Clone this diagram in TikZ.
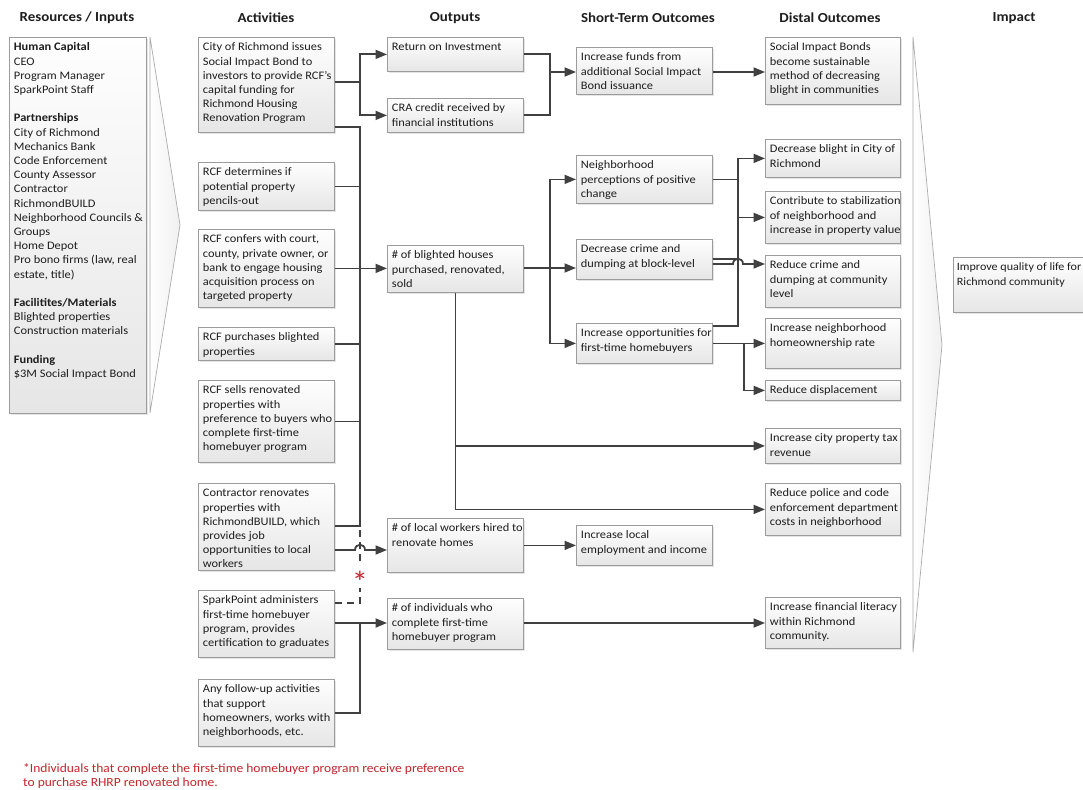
\documentclass[tikz,border=0pt]{standalone}
\usepackage{fontspec}
\setmainfont{Carlito}[FakeStretch=1.08]
\usetikzlibrary{arrows.meta,shadows}

\definecolor{wirecol}{HTML}{404040}
\definecolor{boxline}{HTML}{9C9C9C}
\definecolor{boxtop}{HTML}{FEFEFE}
\definecolor{boxbot}{HTML}{E6E6E6}
\definecolor{notecol}{RGB}{196,38,44}
\definecolor{ink}{HTML}{1E1E1E}

\newcommand\cellfont{\fontsize{11.5}{14.2}\selectfont}
\newcommand\notefont{\fontsize{12.5}{14.2}\selectfont}
% box with its top-left corner at (x,y), width w, height h, text set from the top
\newcommand\cell[6]{%
  \node[cellbox, minimum width=#4pt, minimum height=#5pt] (#1) at (#2,#3)
    {\parbox[t][\dimexpr#5pt-7pt\relax][t]{\dimexpr#4pt-9pt\relax}{%
      \begin{tabular}[t]{@{}l@{}}#6\end{tabular}}};}

\begin{document}
\begin{tikzpicture}[x=1pt,y=-1pt,
  cellbox/.style={anchor=north west, draw=boxline, line width=0.8pt,
    top color=boxtop, bottom color=boxbot, inner xsep=4.5pt, inner ysep=3.5pt,
    drop shadow={shadow xshift=1.3pt, shadow yshift=-1.3pt, opacity=0.2},
    text=ink, font=\cellfont},
  head/.style={font=\fontsize{13.8}{15}\selectfont\bfseries, text=ink, inner sep=0pt},
  wire/.style={draw=wirecol, line width=1.8pt},
  arr/.style={wire, -{Triangle[length=11.5pt,width=9pt]}},
  dashlink/.style={draw=wirecol, line width=1.8pt, dash pattern=on 7pt off 5pt},
  chev/.style={draw=gray!65, line width=0.7pt, left color=white, right color=gray!12},
  starmark/.style={text=notecol, font=\fontsize{30}{30}\selectfont, inner sep=0pt},
  footnote/.style={text=notecol, font=\notefont, inner sep=0pt}]

\useasboundingbox (0,0) rectangle (1083,789);
\fill[white] (0,0) rectangle (1083,789);

% column headings
\node[head] (hRes) at (77,18) {Resources / Inputs};
\node[head] (hAct) at (266,18) {Activities};
\node[head] (hOut) at (455,18) {Outputs};
\node[head] (hShort) at (648,18) {Short-Term Outcomes};
\node[head] (hDist) at (830,18) {Distal Outcomes};
\node[head] (hImp) at (1014,18) {Impact};

% chevrons between columns
\path[chev] (150,37) -- (180,225) -- (150,413) -- cycle;
\path[chev] (913,37) -- (942,345) -- (913,652) -- cycle;

% resources
\cell{res}{9}{37}{137}{376}{\textbf{Human Capital}\\ CEO\\ Program Manager\\ SparkPoint Staff\\ \\
  \textbf{Partnerships}\\ City of Richmond\\ Mechanics Bank\\ Code Enforcement\\ County Assessor\\
  Contractor\\ RichmondBUILD\\ Neighborhood Councils \&\\ Groups\\ Home Depot\\
  Pro bono firms (law, real\\ estate, title)\\ \\
  \textbf{Facilitites/Materials}\\ Blighted properties\\ Construction materials\\ \\
  \textbf{Funding}\\ \$3M Social Impact Bond}

% activities
\cell{a1}{198}{37}{136}{95}{City of Richmond issues\\ Social Impact Bond to\\ investors to provide RCF’s\\ capital funding for\\ Richmond Housing\\ Renovation Program}
\cell{a2}{198}{162}{136}{48}{RCF determines if\\ potential property\\ pencils-out}
\cell{a3}{198}{229}{136}{78}{RCF confers with court,\\ county, private owner, or\\ bank to engage housing\\ acquisition process on\\ targeted property}
\cell{a4}{198}{327}{136}{33}{RCF purchases blighted\\ properties}
\cell{a5}{198}{380}{136}{82}{RCF sells renovated\\ properties with\\ preference to buyers who\\ complete first-time\\ homebuyer program}
\cell{a6}{198}{483}{136}{87}{Contractor renovates\\ properties with\\ RichmondBUILD, which\\ provides job\\ opportunities to local\\ workers}
\cell{a7}{198}{590}{136}{67}{SparkPoint administers\\ first-time homebuyer\\ program, provides\\ certification to graduates}
\cell{a8}{198}{679}{136}{67}{Any follow-up activities\\ that support\\ homeowners, works with\\ neighborhoods, etc.}

% outputs
\cell{o1}{387}{37}{136}{34}{Return on Investment}
\cell{o2}{387}{98}{136}{34}{CRA credit received by\\ financial institutions}
\cell{o3}{387}{245}{136}{47}{\# of blighted houses\\ purchased, renovated,\\ sold}
\cell{o4}{387}{518}{136}{54}{\# of local workers hired to\\ renovate homes}
\cell{o5}{387}{598}{136}{51}{\# of individuals who\\ complete first-time\\ homebuyer program}

% short-term outcomes
\cell{s1}{576}{47}{136}{47}{Increase funds from\\ additional Social Impact\\ Bond issuance}
\cell{s2}{576}{155}{136}{48}{Neighborhood\\ perceptions of positive\\ change}
\cell{s3}{576}{239}{136}{40}{Decrease crime and\\ dumping at block-level}
\cell{s4}{576}{323}{136}{40}{Increase opportunities for\\ first-time homebuyers}
\cell{s5}{576}{525}{136}{40}{Increase local\\ employment and income}

% distal outcomes
\cell{d1}{765}{37}{135}{67}{Social Impact Bonds\\ become sustainable\\ method of decreasing\\ blight in communities}
\cell{d2}{765}{139}{135}{38}{Decrease blight in City of\\ Richmond}
\cell{d3}{765}{191}{135}{52}{Contribute to stabilization\\ of neighborhood and\\ increase in property value}
\cell{d4}{765}{255}{135}{52}{Reduce crime and\\ dumping at community\\ level}
\cell{d5}{765}{318}{135}{50}{Increase neighborhood\\ homeownership rate}
\cell{d6}{765}{380}{135}{20}{Reduce displacement}
\cell{d7}{765}{428}{135}{35}{Increase city property tax\\ revenue}
\cell{d8}{765}{483}{135}{52}{Reduce police and code\\ enforcement department\\ costs in neighborhood}
\cell{d9}{765}{597}{135}{51}{Increase financial literacy\\ within Richmond\\ community.}

% impact (runs past the right edge of the page)
\node[cellbox, minimum width=137pt, minimum height=55pt, inner xsep=3.5pt] (imp) at (953,257)
  {\parbox[t][48pt][t]{130pt}{\fontsize{11.2}{14.2}\selectfont
   \begin{tabular}[t]{@{}l@{}}Improve quality of life for\\ Richmond community\end{tabular}}};

% junction points
\coordinate (busA) at (360,82);
\coordinate (busTop) at (360,127);
\coordinate (busBot) at (360,526);
\coordinate (busC) at (360,623);
\coordinate (dashA) at (360,588);
\coordinate (dashB) at (360,561);
\coordinate (jB) at (550,72);
\coordinate (jC) at (550,268);
\coordinate (busE) at (738,0);
\coordinate (busF) at (744,0);

% activities to outputs
\draw[wire] (a1.east |- busA) -- (busA);
\draw[arr] (busA) |- (o1.west);
\draw[arr] (busA) |- (o2.west);
\draw[wire] (a1.east |- busTop) -- (busTop) -- (busBot) -- (a6.east |- busBot);
\draw[wire] (a2.east) -- (a2.east -| busTop);
\draw[arr] (a3.east) -- (o3.west |- a3.east);
\draw[wire] (a4.east) -- (a4.east -| busTop);
\draw[wire] (a5.east) -- (a5.east -| busTop);
\draw[dashlink] (a7.east |- 0,603) -| (dashA);
\draw[dashlink] (dashB) -- (busBot);
\node[starmark] (star) at (360,582) {*};
\draw[arr] (a6.east |- 0,550) -- (355,550) .. controls (355,543) and (365,543) .. (365,550) -- (o4.west |- 0,550);
\draw[arr] (a7.east |- busC) -- (o5.west |- busC);
\draw[wire] (a8.east) -| (busC);

% outputs to short-term outcomes
\draw[wire] (o1.east) -| (jB);
\draw[wire] (o2.east) -| (jB);
\draw[arr] (jB) -- (s1.west |- jB);
\draw[wire] (o3.east |- jC) -- (jC);
\draw[arr] (jC) |- (s2.west);
\draw[arr] (jC) -- (s3.west |- jC);
\draw[arr] (jC) |- (s4.west);
\draw[arr] (o4.east) -- (s5.west |- o4.east);

% outputs straight to distal outcomes
\draw[arr] (o3.south) |- (d8.west);
\draw[arr] (o3.south |- d7.west) -- (d7.west);
\draw[arr] (o5.east |- busC) -- (d9.west |- busC);

% short-term to distal outcomes
\draw[arr] (s1.east |- jB) -- (d1.west |- jB);
\draw[wire] (s2.east) -- (s2.east -| busE);
\draw[arr] (s4.east |- 0,326) -| (d2.west -| busE) -- (d2.west);
\draw[arr] (d3.west -| busE) -- (d3.west);
\draw[wire] (s3.east |- 0,259) -- (busE |- 0,259);
\draw[arr] (s3.east |- 0,264) -- (733,264) .. controls (733,257) and (743,257) .. (743,264) -- (d4.west |- 0,264);
\draw[arr] (s4.east) -- (d5.west |- s4.east);
\draw[arr] (s4.east -| busF) |- (d6.west);

% footnote
\node[footnote, anchor=base west] (fn1) at (23,772) {*Individuals that complete the first-time homebuyer program receive preference};
\node[footnote, anchor=base west] (fn2) at (23,786) {to purchase RHRP renovated home.};
\end{tikzpicture}
\end{document}
